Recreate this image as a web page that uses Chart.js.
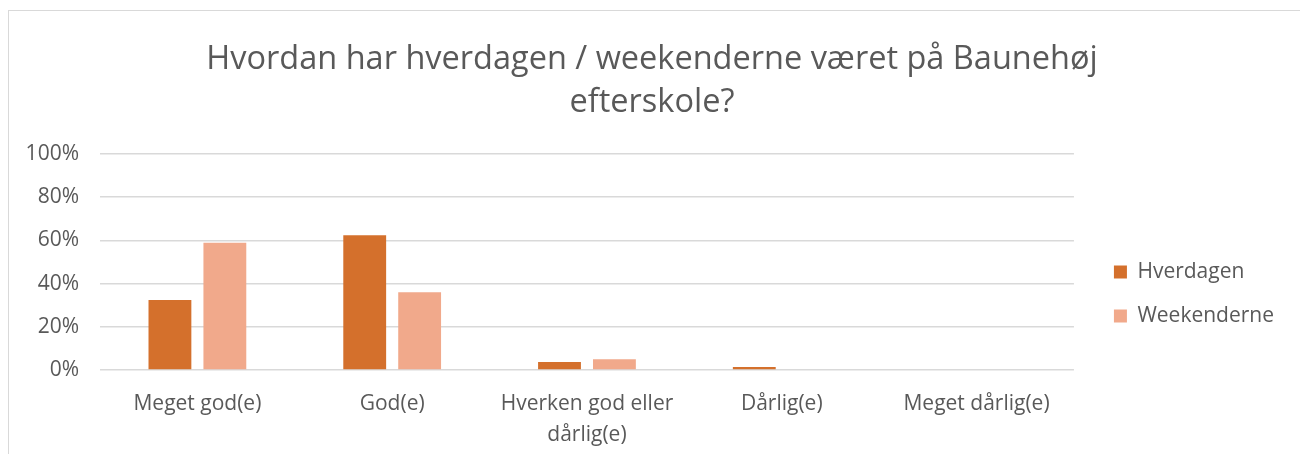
<!DOCTYPE html>
<html>
<head>
<meta charset="utf-8">
<script src="https://cdn.jsdelivr.net/npm/chart.js@4.4.1/dist/chart.umd.min.js"></script>
<style>
  html, body { margin: 0; padding: 0; background: #fff; }
  #frame {
    position: absolute; left: 8px; top: 10px;
    width: 1300px; height: 450px;
    border-left: 1px solid #d9d9d9; border-top: 1px solid #d9d9d9;
  }
  #wrap { position: absolute; left: 0; top: 0; width: 1300px; height: 454px; }
</style>
</head>
<body>
<div id="frame"></div>
<div id="wrap"><canvas id="myChart" width="1300" height="454"></canvas></div>
<script>
const categories = ["Meget god(e)", "God(e)", ["Hverken god eller", "dårlig(e)"], "Dårlig(e)", "Meget dårlig(e)"];
const hverdagen = [32.4, 62.3, 3.7, 1.4, 0];
const weekenderne = [58.8, 36.0, 5.0, 0, 0];
const yTicks = [0, 20, 40, 60, 80, 100];

const textColor = "#595959";
const fontFamily = "'Open Sans', sans-serif";
const legendOffset = 67;

// nudge the legend down so it sits where the original one does
const legendShift = {
  id: "legendShift",
  afterLayout(chart) {
    chart.legend.top += legendOffset;
    chart.legend.bottom += legendOffset;
  },
};

const data = {
  labels: categories,
  datasets: [
    {
      label: "Hverdagen",
      backgroundColor: "#d4702c",
      data: hverdagen,
      categoryPercentage: 0.564,
      barPercentage: 0.78,
    },
    {
      label: "Weekenderne",
      backgroundColor: "#f1a98b",
      data: weekenderne,
      categoryPercentage: 0.564,
      barPercentage: 0.78,
    },
  ],
};

const config = {
  type: "bar",
  data: data,
  plugins: [legendShift],
  options: {
    responsive: false,
    maintainAspectRatio: false,
    animation: false,
    layout: {
      padding: { left: 20, right: 16, top: 0, bottom: 0 },
    },
    scales: {
      x: {
        grid: { display: false },
        border: { display: false },
        afterFit: (axis) => {
          axis.height = 84;
        },
        ticks: {
          color: textColor,
          font: { family: fontFamily, size: 21, lineHeight: 1.48 },
          padding: 10,
          maxRotation: 0,
          autoSkip: false,
        },
      },
      y: {
        min: 0,
        max: 100,
        afterBuildTicks: (axis) => {
          axis.ticks = yTicks.map((v) => ({ value: v }));
        },
        afterFit: (axis) => {
          axis.width = 80;
        },
        grid: { color: "#d9d9d9", lineWidth: 1.5, drawTicks: false },
        border: { display: false },
        ticks: {
          color: textColor,
          font: { family: fontFamily, size: 21 },
          padding: 21,
          callback: (value) => value + "%",
        },
      },
      gap: {
        position: "right",
        display: true,
        grid: { display: false },
        border: { display: false },
        ticks: { display: false },
        afterFit: (axis) => {
          axis.width = 17;
        },
      },
    },
    plugins: {
      legend: {
        position: "right",
        labels: {
          color: textColor,
          font: { family: fontFamily, size: 21 },
          boxWidth: 13,
          boxHeight: 13,
          padding: 23,
        },
      },
      title: {
        display: true,
        text: ["Hvordan har hverdagen / weekenderne været på Baunehøj", "efterskole?"],
        color: textColor,
        font: { family: fontFamily, size: 32.5, weight: "normal", lineHeight: 1.32 },
        padding: { top: 38, bottom: 30 },
      },
      tooltip: { enabled: false },
    },
  },
};

const ctx = document.getElementById("myChart").getContext("2d");
new Chart(ctx, config);
</script>
</body>
</html>
